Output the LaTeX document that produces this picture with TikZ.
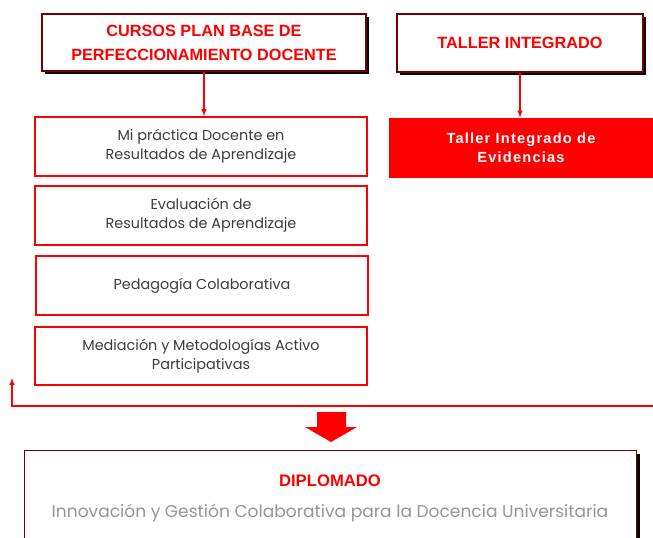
\documentclass[tikz,border=0pt]{standalone}
\usepackage{fontspec}
\setmainfont{Poppins}
\newfontfamily\titlefont{Liberation Sans}
\newfontfamily\spacedfont[LetterSpace=8]{Liberation Sans}
\usetikzlibrary{arrows,shadows}
\definecolor{boxred}{RGB}{255,0,0}
\definecolor{textgray}{RGB}{60,60,60}
\definecolor{lightgray}{RGB}{150,150,150}

\begin{document}
\begin{tikzpicture}[x=0.75pt, y=-0.75pt, thick,
    head/.style = {draw=boxred!45!black, fill=white, line width=1pt, inner sep=0pt,
        drop shadow={shadow xshift=2.5pt, shadow yshift=-2.5pt, fill=black, opacity=1},
        align=center, text=boxred, font=\titlefont\bfseries\fontsize{12.2}{18}\selectfont},
    course/.style = {draw=boxred, line width=1.5pt, fill=white, inner sep=0pt,
        minimum width=249pt, minimum height=44pt, align=center, text=textgray,
        font=\fontsize{10.8}{14}\selectfont},
    link/.style = {draw=boxred, line width=0.8pt, -latex}]
    \clip (0,0) rectangle (653,537);

    \node[head, minimum width=243pt, minimum height=42.75pt] (n_1) at (204,42.5)
        {CURSOS PLAN BASE DE\\PERFECCIONAMIENTO DOCENTE};
    \node[head, minimum width=184.5pt, minimum height=43.5pt] (n_2) at (520,43)
        {TALLER INTEGRADO};

    \node[course] (n_3) at (201,146.5) {Mi práctica Docente en\\Resultados de Aprendizaje};
    \node[course] (n_4) at (201,215.5) {Evaluación de\\Resultados de Aprendizaje};
    \node[course] (n_5) at (202,285.5) {Pedagogía Colaborativa};
    \node[course] (n_6) at (201,356) {Mediación y Metodologías Activo\\Participativas};

    \node[fill=boxred, minimum width=198pt, minimum height=45pt, align=center, text=white,
        font=\spacedfont\bfseries\fontsize{11}{14}\selectfont] (n_7) at (521,148)
        {Taller Integrado de\\Evidencias};

    \draw[link] (n_1) -- (n_1 |- n_3.north);
    \draw[link] (n_2) -- (n_2 |- n_7.north);

    % retorno
    \coordinate (fb_r) at (653,406);
    \coordinate (fb_l) at (12,406);
    \coordinate (fb_t) at (12,378);
    \draw[link] (fb_r) -- (fb_l) -- (fb_t);

    % flecha grande
    \fill[boxred] (317,412) -- (346,412) -- (346,427) -- (357,427) -- (331,442)
        -- (305,427) -- (317,427) -- cycle;

    \node[draw=boxred!45!black, fill=white, line width=1pt, minimum width=459pt,
        minimum height=80pt, anchor=north west, inner sep=0pt,
        drop shadow={shadow xshift=2.5pt, shadow yshift=-2.5pt, fill=black, opacity=1}]
        (n_8) at (24,450) {};
    \node[text=boxred, font=\titlefont\bfseries\fontsize{12.5}{14}\selectfont] (n_9) at (330,481) {DIPLOMADO};
    \node[text=lightgray, font=\fontsize{12.8}{15}\selectfont] (n_10) at (330,513)
        {Innovación y Gestión Colaborativa para la Docencia Universitaria};
\end{tikzpicture}
\end{document}
